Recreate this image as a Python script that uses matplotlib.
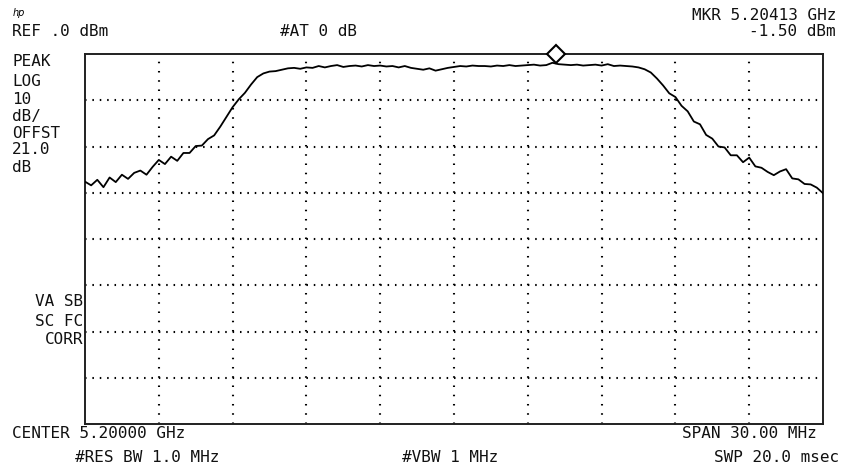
import matplotlib
matplotlib.use("Agg")
import matplotlib.pyplot as plt
import numpy as np

# ---- data ----
center_ghz = 5.2
span_mhz = 30.0
ref_dbm = 0.0
db_per_div = 10
marker_offset_mhz = 4.13
marker_level_dbm = 0.0

freq_offset_mhz = [
    -15.00, -14.75, -14.50, -14.25, -14.00, -13.75, -13.50, -13.25, -13.00, -12.75,
    -12.50, -12.25, -12.00, -11.75, -11.50, -11.25, -11.00, -10.75, -10.50, -10.25,
    -10.00, -9.75, -9.50, -9.25, -9.00, -8.75, -8.50, -8.25, -8.00, -7.75,
    -7.50, -7.25, -7.00, -6.75, -6.50, -6.25, -6.00, -5.75, -5.50, -5.25,
    -5.00, -4.75, -4.50, -4.25, -4.00, -3.75, -3.50, -3.25, -3.00, -2.75,
    -2.50, -2.25, -2.00, -1.75, -1.50, -1.25, -1.00, -0.75, -0.50, -0.25,
    0.00, 0.25, 0.50, 0.75, 1.00, 1.25, 1.50, 1.75, 2.00, 2.25,
    2.50, 2.75, 3.00, 3.25, 3.50, 3.75, 4.00, 4.25, 4.50, 4.75,
    5.00, 5.25, 5.50, 5.75, 6.00, 6.25, 6.50, 6.75, 7.00, 7.25,
    7.50, 7.75, 8.00, 8.25, 8.50, 8.75, 9.00, 9.25, 9.50, 9.75,
    10.00, 10.25, 10.50, 10.75, 11.00, 11.25, 11.50, 11.75, 12.00, 12.25,
    12.50, 12.75, 13.00, 13.25, 13.50, 13.75, 14.00, 14.25, 14.50, 14.75,
    15.00,
]
level_dbm = [
    -27.6, -28.4, -27.2, -28.8, -26.7, -27.7, -26.1, -27.0, -25.7, -25.2,
    -26.1, -24.4, -22.9, -23.8, -22.2, -23.1, -21.4, -21.4, -19.9, -19.8,
    -18.4, -17.6, -15.7, -13.6, -11.5, -9.8, -8.4, -6.6, -5.0, -4.2,
    -3.8, -3.7, -3.4, -3.1, -3.0, -3.2, -2.9, -3.0, -2.6, -2.9,
    -2.6, -2.4, -2.8, -2.6, -2.5, -2.7, -2.4, -2.6, -2.5, -2.7,
    -2.6, -2.9, -2.6, -3.0, -3.2, -3.4, -3.1, -3.6, -3.3, -3.0,
    -2.8, -2.6, -2.7, -2.5, -2.6, -2.6, -2.7, -2.5, -2.6, -2.4,
    -2.6, -2.5, -2.4, -2.3, -2.5, -2.4, -1.9, -2.2, -2.3, -2.4,
    -2.3, -2.5, -2.4, -2.3, -2.5, -2.2, -2.6, -2.5, -2.6, -2.7,
    -2.9, -3.3, -4.0, -5.3, -6.8, -8.5, -9.3, -11.2, -12.4, -14.6,
    -15.2, -17.5, -18.3, -20.0, -20.2, -21.9, -21.9, -23.4, -22.4, -24.3,
    -24.6, -25.5, -26.2, -25.4, -24.9, -26.9, -27.1, -28.1, -28.2, -28.9,
    -30.1,
]

top_labels = ["REF .0 dBm", "#AT 0 dB", "MKR 5.20413 GHz", "-1.50 dBm"]
side_labels = ["PEAK", "LOG", "10", "dB/", "OFFST", "21.0", "dB"]
side_labels2 = ["VA SB", "SC FC", "CORR"]
bottom_labels = ["CENTER 5.20000 GHz", "SPAN 30.00 MHz", "#RES BW 1.0 MHz", "#VBW 1 MHz", "SWP 20.0 msec"]

# ---- figure ----
W, H = 843, 470
fig = plt.figure(figsize=(W / 100, H / 100), dpi=100)
fig.patch.set_facecolor("white")
plt.rcParams["lines.scale_dashes"] = False

ax = fig.add_axes([85 / W, 1 - 424 / H, 738 / W, 370 / H])
half = span_mhz / 2
ax.set_xlim(-half, half)
ax.set_ylim(ref_dbm - 8 * db_per_div, ref_dbm)
ax.set_xticks([])
ax.set_yticks([])
for s in ax.spines.values():
    s.set_linewidth(1.4)
    s.set_color("#202020")

# dotted graticule
px_per_pt = 100 / 72
hdot = (738 / 10 / 10) / px_per_pt
vdot = (370 / 8 / 5) / px_per_pt
for k in range(1, 10):
    ax.plot([-half + k * 3, -half + k * 3], [ref_dbm - 80, ref_dbm], color="black",
            lw=1.5, linestyle=(0, (1.1, vdot - 1.1)), zorder=1)
for k in range(1, 8):
    ax.plot([-half, half], [ref_dbm - 10 * k] * 2, color="black",
            lw=1.5, linestyle=(0, (1.1, hdot - 1.1)), zorder=1)

ax.plot(freq_offset_mhz, level_dbm, color="black", lw=1.3, zorder=3)
ax.plot([marker_offset_mhz], [marker_level_dbm], marker="D", markersize=9,
        markerfacecolor="white", markeredgecolor="black", markeredgewidth=1.5,
        clip_on=False, zorder=5)

font = dict(family="DejaVu Sans Mono", fontsize=11.5, color="#111111")

def T(x, y, s, ha="left"):
    fig.text(x / W, 1 - y / H, s, ha=ha, va="center", **font)

fig.text(13 / W, 1 - 13 / H, "hp", ha="left", va="center", fontsize=7, style="italic",
         family="DejaVu Sans")
T(12, 31, top_labels[0])
T(318, 31, top_labels[1], ha="center")
T(836, 16, top_labels[2], ha="right")
T(836, 31, top_labels[3], ha="right")

side_y = [61, 82, 99, 116, 133, 150, 167]
for s, y in zip(side_labels, side_y):
    T(12, y, s)
for s, y in zip(side_labels2, [302, 321, 340]):
    T(83, y, s, ha="right")

T(12, 433, bottom_labels[0])
T(817, 433, bottom_labels[1], ha="right")
T(75, 457, bottom_labels[2])
T(450, 457, bottom_labels[3], ha="center")
T(839, 457, bottom_labels[4], ha="right")

fig.savefig("out.png", dpi=100, facecolor="white")
